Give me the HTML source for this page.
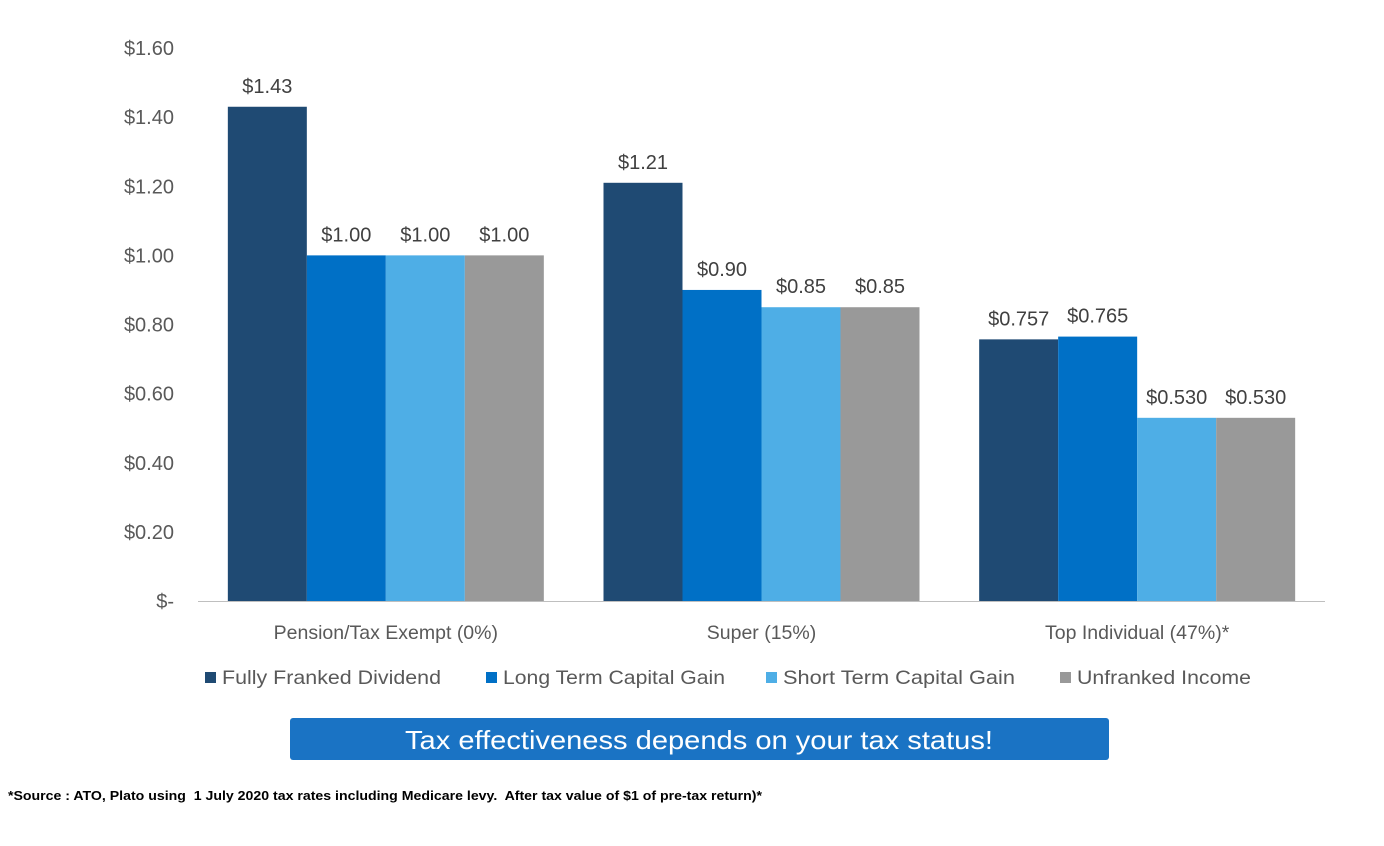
<!DOCTYPE html>
<html><head><meta charset="utf-8"><style>
body{margin:0;width:1384px;height:846px;background:#fff;overflow:hidden;font-family:"Liberation Sans",sans-serif}
svg{position:absolute;left:0;top:0}
</style></head><body>
<svg id="chart" width="1384" height="846" xmlns="http://www.w3.org/2000/svg"></svg>
<script>
const categories=["Pension/Tax Exempt (0%)","Super (15%)","Top Individual (47%)*"];
const seriesNames=["Fully Franked Dividend","Long Term Capital Gain","Short Term Capital Gain","Unfranked Income"];
const fullyFranked=[1.43,1.21,0.757];
const longTerm=[1.00,0.90,0.765];
const shortTerm=[1.00,0.85,0.530];
const unfranked=[1.00,0.85,0.530];
const valueLabels=[["$1.43","$1.00","$1.00","$1.00"],["$1.21","$0.90","$0.85","$0.85"],["$0.757","$0.765","$0.530","$0.530"]];
const yTicks=[0,0.2,0.4,0.6,0.8,1.0,1.2,1.4,1.6];
const yTickLabels=["$-","$0.20","$0.40","$0.60","$0.80","$1.00","$1.20","$1.40","$1.60"];
const series=[fullyFranked,longTerm,shortTerm,unfranked];
const colors=["#1f4a73","#0070c6","#4eaee6","#999999"];
const NS="http://www.w3.org/2000/svg";
const svg=document.getElementById('chart');
const x0=198,x1=1325,yBase=601,yTop=48,yMax=1.6;
const y=v=>yBase-(v/yMax)*(yBase-yTop);
const groupW=(x1-x0)/categories.length, barW=79;
const xBar=(g,s)=>x0+g*groupW+(groupW-4*barW)/2+s*barW;
function mk(tag,attrs,text){const e=document.createElementNS(NS,tag);for(const k in attrs)e.setAttribute(k,attrs[k]);if(text!==undefined)e.textContent=text;svg.appendChild(e);return e;}
yTicks.forEach((t,i)=>{const e=mk('text',{x:174,y:y(t)+7,'text-anchor':'end','font-size':20,fill:'#595959'},yTickLabels[i]);

});
categories.forEach((c,g)=>{
 series.forEach((arr,s)=>{
  const r=mk('rect',{x:xBar(g,s),y:y(arr[g]),width:barW,height:yBase-y(arr[g]),fill:colors[s]});
  
  
  const t=mk('text',{x:xBar(g,s)+barW/2,y:y(arr[g])-14,'text-anchor':'middle','font-size':20,fill:'#404040'},valueLabels[g][s]);
  
  
 });
 const cl=mk('text',{x:x0+g*groupW+groupW/2,y:639,'text-anchor':'middle','font-size':19.5,fill:'#595959'},c);
 
 
});
const ax=mk('line',{x1:x0,y1:yBase+0.5,x2:x1,y2:yBase+0.5,stroke:'#bfbfbf','stroke-width':1});


const legX=[205,486,766,1060];
const legLen=[219,222,232,174];
seriesNames.forEach((n,i)=>{
 const r=mk('rect',{x:legX[i],y:672,width:11,height:11,fill:colors[i]});
 
 
 const t=mk('text',{x:legX[i]+17,y:684,'font-size':19.5,fill:'#595959',textLength:legLen[i],lengthAdjust:'spacingAndGlyphs'},n);
 
 
});
const b=mk('rect',{x:290,y:718,width:819,height:42,rx:3,fill:'#1a73c4'});


const bt=mk('text',{x:405,y:749,'font-size':26,fill:'#fff',textLength:588,lengthAdjust:'spacingAndGlyphs'},'Tax effectiveness depends on your tax status!');


const fn=mk('text',{x:8,y:800,'font-size':13,'font-weight':'bold',fill:'#000',textLength:754,lengthAdjust:'spacingAndGlyphs'},'*Source : ATO, Plato using  1 July 2020 tax rates including Medicare levy.  After tax value of $1 of pre-tax return)*');


fn.style.whiteSpace='pre';
</script>
</body></html>
